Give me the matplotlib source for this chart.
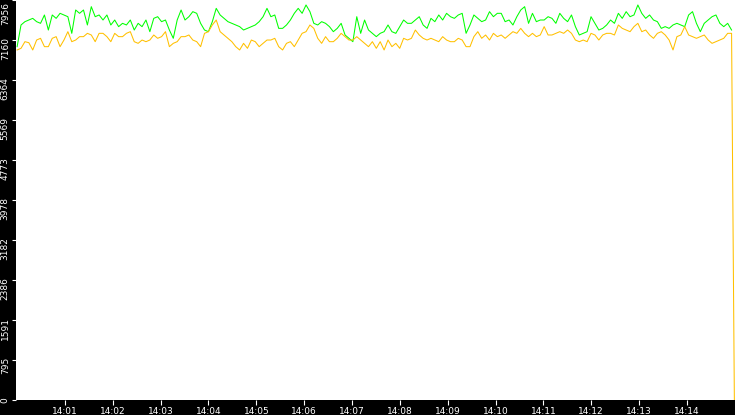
import matplotlib
matplotlib.use("Agg")
import matplotlib.pyplot as plt
import matplotlib.dates as mdates
import matplotlib.transforms as mtransforms
import numpy as np
import pandas as pd

# values, one every ~5 s from 14:00:00 to 14:14:56
green_vals = [
    7028, 7459, 7525, 7558, 7591, 7525, 7492, 7658, 7359, 7658, 7591, 7691, 7658, 7624, 7293, 7757, 7691, 7757, 7459, 7823, 7624, 7658, 7558,
    7658, 7459, 7558, 7426, 7492, 7459, 7558, 7359, 7492, 7426, 7558, 7326, 7591, 7624, 7525, 7558, 7359, 7194, 7558, 7757, 7558, 7624, 7724,
    7691, 7492, 7359, 7326, 7525, 7790, 7658, 7591, 7525, 7492, 7459, 7426, 7359, 7392, 7426, 7459, 7525, 7624, 7790, 7624, 7658, 7392, 7392,
    7459, 7558, 7691, 7790, 7691, 7857, 7724, 7492, 7459, 7525, 7492, 7426, 7326, 7392, 7492, 7260, 7194, 7127, 7624, 7293, 7558, 7359, 7293,
    7227, 7293, 7326, 7459, 7326, 7293, 7426, 7558, 7492, 7492, 7558, 7624, 7459, 7392, 7591, 7525, 7658, 7558, 7691, 7624, 7591, 7658, 7691,
    7293, 7459, 7658, 7591, 7525, 7558, 7724, 7624, 7691, 7691, 7525, 7558, 7459, 7624, 7757, 7823, 7492, 7691, 7525, 7558, 7558, 7624, 7591,
    7492, 7691, 7591, 7525, 7658, 7426, 7260, 7293, 7326, 7624, 7492, 7359, 7392, 7459, 7558, 7492, 7691, 7591, 7724, 7624, 7658, 7857, 7691,
    7591, 7658, 7558, 7525, 7392, 7426, 7392, 7459, 7492, 7459, 7426, 7658, 7724, 7492, 7326, 7492, 7558, 7624, 7658, 7492, 7426, 7492, 7359,
]
orange_vals = [
    6962, 6995, 7127, 7107, 6962, 7160, 7194, 7028, 7028, 7194, 7227, 7028, 7160, 7326, 7127, 7160, 7227, 7227, 7293, 7260, 7127, 7293, 7293,
    7227, 7127, 7293, 7227, 7227, 7293, 7326, 7127, 7094, 7160, 7127, 7160, 7260, 7194, 7227, 7326, 7028, 7094, 7127, 7227, 7227, 7260, 7160,
    7127, 7028, 7293, 7326, 7459, 7558, 7326, 7260, 7194, 7127, 7028, 6962, 7094, 6995, 7160, 7127, 7028, 7094, 7160, 7160, 7194, 7028, 6962,
    7094, 7127, 7028, 7160, 7293, 7326, 7459, 7392, 7194, 7094, 7227, 7127, 7127, 7194, 7293, 7227, 7160, 7160, 7227, 7160, 7094, 7028, 7127,
    6995, 7127, 6962, 7160, 7028, 7094, 6995, 7194, 7160, 7194, 7359, 7260, 7194, 7160, 7194, 7160, 7127, 7227, 7160, 7127, 7127, 7194, 7160,
    7028, 7028, 7227, 7326, 7194, 7260, 7160, 7293, 7227, 7260, 7194, 7260, 7326, 7293, 7392, 7293, 7227, 7293, 7227, 7260, 7426, 7260, 7260,
    7293, 7326, 7293, 7359, 7293, 7160, 7127, 7160, 7127, 7293, 7260, 7160, 7260, 7293, 7293, 7260, 7459, 7392, 7359, 7326, 7426, 7492, 7326,
    7359, 7260, 7194, 7293, 7326, 7260, 7160, 6962, 7227, 7260, 7426, 7260, 7227, 7194, 7227, 7260, 7160, 7094, 7127, 7160, 7194, 7293, 7293,
    0,
]
y_ticks = [0, 795, 1591, 2386, 3182, 3978, 4773, 5569, 6364, 7160, 7956]
x_ticks = ["14:%02d" % m for m in range(1, 15)]

times = pd.date_range("2024-01-01 14:00:00", "2024-01-01 14:14:56", periods=len(green_vals))
times_orange = times.append(pd.DatetimeIndex([pd.Timestamp("2024-01-01 14:14:59.5")]))

fig = plt.figure(figsize=(7.35, 4.15), dpi=100, facecolor="black")
ax = fig.add_axes([16 / 735, 15 / 415, 719 / 735, 400 / 415])
ax.set_facecolor("white")

ax.plot(times, green_vals, color="#00ff00", lw=0.75)
ax.plot(times_orange, orange_vals, color="#ffc000", lw=0.75)

ax.set_xlim(pd.Timestamp("2024-01-01 13:59:58.6"), pd.Timestamp("2024-01-01 14:15:00.3"))
ax.set_ylim(0, 7956)

ax.set_xticks([pd.Timestamp("2024-01-01 " + t) for t in x_ticks])
ax.xaxis.set_major_formatter(mdates.DateFormatter("%H:%M"))
ax.set_yticks(y_ticks)
ax.set_yticklabels([str(v) for v in y_ticks])

for s in ax.spines.values():
    s.set_visible(False)

ax.tick_params(axis="x", colors="white", labelsize=6.5, length=3.6, width=0.8, pad=1.5, direction="out")
ax.tick_params(axis="y", colors="white", labelsize=6.5, length=3, width=0.8, pad=1.5, direction="out")

up = mtransforms.ScaledTranslation(0, 3 / 100, fig.dpi_scale_trans)
down = mtransforms.ScaledTranslation(0, -2 / 100, fig.dpi_scale_trans)
labs = ax.get_yticklabels()
for i, lab in enumerate(labs):
    lab.set_rotation(90)
    lab.set_va("top")
    lab.set_ha("right")
    # top label kept inside the figure
    lab.set_transform(lab.get_transform() + (down if i == len(labs) - 1 else up))

fig.savefig("out.png", dpi=100, facecolor="black")
